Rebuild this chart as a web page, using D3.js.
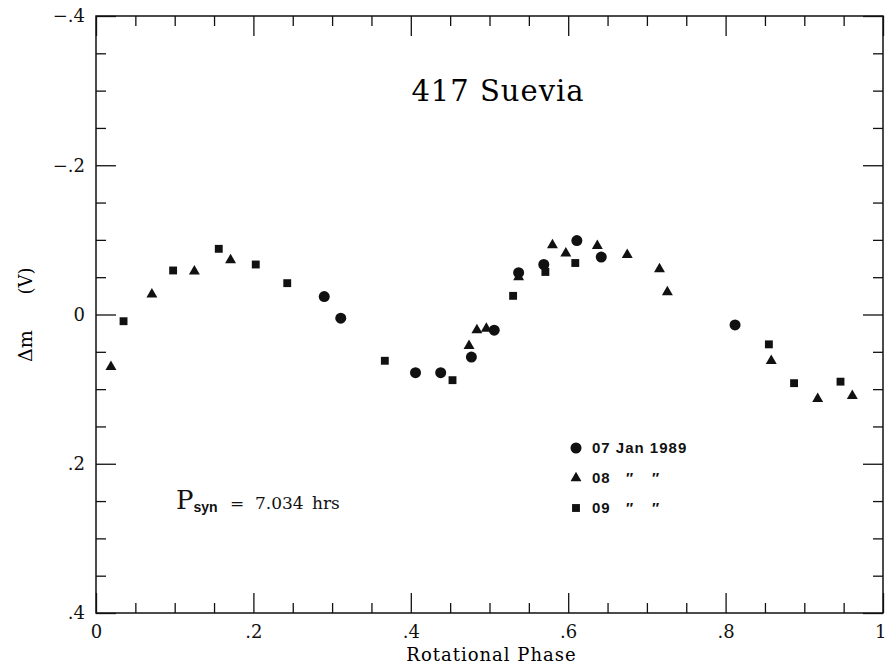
<!DOCTYPE html>
<html>
<head>
  <meta charset="utf-8">
  <script src="https://d3js.org/d3.v7.min.js"></script>
  <style>
    body { margin: 0; background: #fff; }
    .axis path { display: none; }
    .axis line { stroke: #111; stroke-width: 1.3px; }
    .axis text { font-family: "DejaVu Serif", serif; font-size: 18px; fill: #111; }
    .legend text { font-family: "Liberation Sans", Arial, sans-serif; font-weight: bold; font-size: 15px; fill: #111; letter-spacing: 1px; }
  </style>
</head>
<body>
<script type="text/javascript">

  // light curve points, [phase, delta mag]
  var jan07 = [[0.290,-0.024],[0.311,0.005],[0.406,0.078],[0.438,0.078],[0.477,0.057],
               [0.506,0.021],[0.537,-0.056],[0.569,-0.067],[0.611,-0.099],[0.642,-0.077],[0.812,0.014]];
  var jan08 = [[0.019,0.070],[0.071,-0.027],[0.125,-0.058],[0.171,-0.073],[0.474,0.042],
               [0.484,0.021],[0.496,0.019],[0.537,-0.050],[0.580,-0.093],[0.597,-0.082],
               [0.637,-0.092],[0.675,-0.080],[0.716,-0.061],[0.726,-0.030],[0.858,0.062],
               [0.917,0.113],[0.961,0.109]];
  var jan09 = [[0.035,0.009],[0.098,-0.059],[0.156,-0.088],[0.203,-0.067],[0.243,-0.042],
               [0.367,0.062],[0.453,0.088],[0.530,-0.025],[0.571,-0.057],[0.609,-0.069],
               [0.855,0.040],[0.887,0.092],[0.946,0.090]];

  var xMajor = [0, 0.2, 0.4, 0.6, 0.8, 1];
  var xMinor = [0.05,0.1,0.15,0.25,0.3,0.35,0.45,0.5,0.55,0.65,0.7,0.75,0.85,0.9,0.95];
  var yMajor = [-0.4, -0.2, 0, 0.2, 0.4];
  var yMinor = [-0.35,-0.3,-0.25,-0.15,-0.1,-0.05,0.05,0.1,0.15,0.25,0.3,0.35];

  var legendLabels = ["07 Jan 1989", "08", "09"];

  var margin = {top: 16, right: 3, bottom: 54, left: 96},
      width = 886 - margin.left - margin.right,
      height = 667 - margin.top - margin.bottom;

  var x = d3.scaleLinear().domain([0, 1]).range([0, width]);
  var y = d3.scaleLinear().domain([-0.4, 0.4]).range([0, height]);

  function fmt(d) {
    if (d === 0) return "0";
    if (Math.abs(d) === 1) return "1";
    return (d < 0 ? "\u2212" : "") + String(Math.abs(d)).replace(/^0/, "");
  }

  var svg = d3.select("body").append("svg")
      .attr("width", 886)
      .attr("height", 667)
      .append("g")
      .attr("transform", "translate(" + margin.left + "," + margin.top + ")");

  // frame
  svg.append("rect")
    .attr("width", width).attr("height", height)
    .attr("fill", "none").attr("stroke", "#111").attr("stroke-width", 1.5);

  // bottom + top ticks (pointing inward)
  var xAx = svg.append("g").attr("class", "axis")
    .attr("transform", "translate(0," + height + ")")
    .call(d3.axisBottom(x).tickValues(xMajor).tickSize(-20).tickSizeOuter(0).tickPadding(12).tickFormat(fmt));
  // keep the "1" inside the page
  xAx.selectAll(".tick text").filter(function(d) { return d === 1; })
    .attr("text-anchor", "end").attr("x", 3);
  svg.append("g").attr("class", "axis")
    .attr("transform", "translate(0," + height + ")")
    .call(d3.axisBottom(x).tickValues(xMinor).tickSize(-10).tickSizeOuter(0).tickFormat(""));
  svg.append("g").attr("class", "axis")
    .call(d3.axisTop(x).tickValues(xMajor).tickSize(-20).tickSizeOuter(0).tickFormat(""));
  svg.append("g").attr("class", "axis")
    .call(d3.axisTop(x).tickValues(xMinor).tickSize(-10).tickSizeOuter(0).tickFormat(""));

  // left + right
  svg.append("g").attr("class", "axis")
    .call(d3.axisLeft(y).tickValues(yMajor).tickSize(-20).tickSizeOuter(0).tickPadding(11).tickFormat(fmt));
  svg.append("g").attr("class", "axis")
    .call(d3.axisLeft(y).tickValues(yMinor).tickSize(-10).tickSizeOuter(0).tickFormat(""));
  svg.append("g").attr("class", "axis")
    .attr("transform", "translate(" + width + ",0)")
    .call(d3.axisRight(y).tickValues(yMajor).tickSize(-20).tickSizeOuter(0).tickFormat(""));
  svg.append("g").attr("class", "axis")
    .attr("transform", "translate(" + width + ",0)")
    .call(d3.axisRight(y).tickValues(yMinor).tickSize(-10).tickSizeOuter(0).tickFormat(""));

  // axis titles
  svg.append("text")
    .attr("x", width / 2 + 2).attr("y", height + 48)
    .attr("text-anchor", "middle")
    .style("font-family", "DejaVu Serif, serif").style("font-size", "18px").style("letter-spacing", "1px")
    .text("Rotational Phase");

  svg.append("text")
    .attr("transform", "translate(" + (32 - margin.left) + "," + (346 - margin.top) + ") rotate(-90)")
    .attr("text-anchor", "middle")
    .style("font-family", "DejaVu Serif, serif").style("font-size", "19px")
    .text("\u0394m");
  svg.append("text")
    .attr("transform", "translate(" + (32 - margin.left) + "," + (281 - margin.top) + ") rotate(-90)")
    .attr("text-anchor", "middle")
    .style("font-family", "DejaVu Serif, serif").style("font-size", "18px")
    .text("(V)");

  // title
  svg.append("text")
    .attr("x", 498 - margin.left).attr("y", 101 - margin.top)
    .attr("text-anchor", "middle")
    .style("font-family", "DejaVu Serif, serif").style("font-size", "29px").style("letter-spacing", "1px")
    .text("417 Suevia");

  // period note
  var pnote = svg.append("text")
    .attr("x", 176 - margin.left).attr("y", 509 - margin.top)
    .style("font-family", "DejaVu Serif, serif").attr("fill", "#111");
  pnote.append("tspan").style("font-size", "26px").text("P");
  pnote.append("tspan").attr("dy", 3).style("font-size", "14px")
    .style("font-family", "Liberation Sans, Arial, sans-serif").style("font-weight", "bold").text("syn");
  pnote.append("tspan").attr("x", 230 - margin.left).attr("dy", -3).style("font-size", "17px").text("=");
  pnote.append("tspan").attr("x", 255 - margin.left).style("font-size", "17px").text("7.034");
  pnote.append("tspan").attr("x", 312 - margin.left).style("font-size", "17px").text("hrs");

  var series = [
    {data: jan07, shape: d3.symbolCircle, size: 95},
    {data: jan08, shape: d3.symbolTriangle, size: 52},
    {data: jan09, shape: d3.symbolSquare, size: 62}
  ];

  series.forEach(function(s) {
    svg.append("g").selectAll("path")
      .data(s.data)
      .enter()
      .append("path")
      .attr("d", d3.symbol().type(s.shape).size(s.size))
      .attr("transform", function(d) { return "translate(" + x(d[0]) + "," + y(d[1]) + ")"; })
      .attr("fill", "#111");
  });

  // legend
  var legend = svg.append("g").attr("class", "legend")
    .attr("transform", "translate(" + (576 - margin.left) + "," + (448 - margin.top) + ")");

  series.forEach(function(s, i) {
    var row = legend.append("g").attr("transform", "translate(0," + (i * 30) + ")");
    row.append("path")
      .attr("d", d3.symbol().type(s.shape).size(s.size))
      .attr("fill", "#111");
    row.append("text").attr("x", 16).attr("y", 5).text(legendLabels[i]);
    if (i > 0) {
      row.append("text").attr("x", 50).attr("y", 5).text("\u2033");
      row.append("text").attr("x", 76).attr("y", 5).text("\u2033");
    }
  });

</script>
</body>
</html>
